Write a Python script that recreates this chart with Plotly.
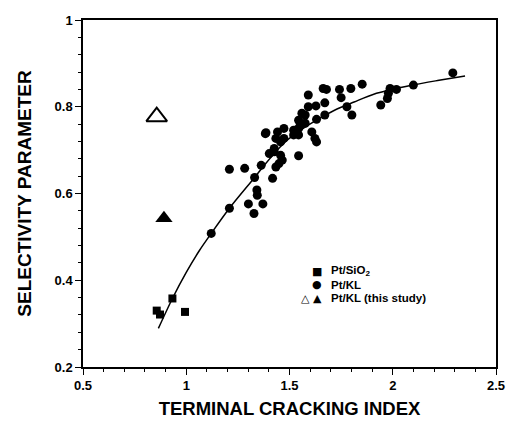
import plotly.graph_objects as go

# Pt/KL (literature) circles
kl_x = [1.121, 1.209, 1.209, 1.283, 1.363, 1.331, 1.342, 1.344, 1.301, 1.371,
        1.328, 1.383, 1.418, 1.434, 1.449, 1.465, 1.457, 1.426, 1.402, 1.426,
        1.457, 1.434, 1.473, 1.386, 1.442, 1.473, 1.520, 1.544, 1.520, 1.544,
        1.552, 1.576, 1.544, 1.560, 1.576, 1.608, 1.623, 1.631, 1.544, 1.591,
        1.628, 1.671, 1.631, 1.671, 1.591, 1.663, 1.679, 1.742, 1.750, 1.778,
        1.802, 1.797, 1.852, 1.942, 1.974, 1.979, 1.987, 2.018, 2.100, 2.291]
kl_y = [0.508, 0.566, 0.656, 0.658, 0.665, 0.637, 0.608, 0.596, 0.576, 0.576,
        0.554, 0.738, 0.635, 0.661, 0.669, 0.677, 0.688, 0.696, 0.692, 0.704,
        0.719, 0.727, 0.727, 0.740, 0.742, 0.750, 0.746, 0.750, 0.735, 0.735,
        0.758, 0.762, 0.769, 0.785, 0.781, 0.742, 0.727, 0.719, 0.687, 0.800,
        0.802, 0.809, 0.771, 0.781, 0.827, 0.842, 0.840, 0.840, 0.821, 0.800,
        0.781, 0.842, 0.852, 0.804, 0.819, 0.831, 0.842, 0.840, 0.850, 0.878]

# Pt/SiO2 squares
sio2_x = [0.857, 0.873, 0.933, 0.994]
sio2_y = [0.330, 0.321, 0.358, 0.327]

# Pt/KL (this study)
open_tri_x = [0.857]
open_tri_y = [0.777]
fill_tri_x = [0.892]
fill_tri_y = [0.543]

# fitted curve
curve_x = [0.865, 0.933, 1.000, 1.063, 1.121, 1.209, 1.331, 1.386, 1.481, 1.560,
           1.631, 1.718, 1.813, 1.908, 2.097, 2.224, 2.350]
curve_y = [0.289, 0.358, 0.418, 0.468, 0.508, 0.566, 0.637, 0.670, 0.720, 0.748,
           0.769, 0.792, 0.811, 0.829, 0.850, 0.861, 0.871]

legend_labels = ["Pt/SiO<sub>2</sub>", "Pt/KL", "Pt/KL (this study)"]

FONT = "Liberation Sans, Arial, sans-serif"

fig = go.Figure()
fig.add_trace(go.Scatter(x=curve_x, y=curve_y, mode="lines",
                         line=dict(color="black", width=1.5, shape="spline", smoothing=0.8),
                         showlegend=False, hoverinfo="skip"))
fig.add_trace(go.Scatter(x=kl_x, y=kl_y, mode="markers",
                         marker=dict(symbol="circle", size=9, color="black"),
                         showlegend=False))
fig.add_trace(go.Scatter(x=sio2_x, y=sio2_y, mode="markers",
                         marker=dict(symbol="square", size=8, color="black"),
                         showlegend=False))
fig.add_trace(go.Scatter(x=open_tri_x, y=open_tri_y, mode="markers",
                         marker=dict(symbol="triangle-up-open", size=18, color="black",
                                     line=dict(width=2)),
                         showlegend=False))
fig.add_trace(go.Scatter(x=fill_tri_x, y=fill_tri_y, mode="markers",
                         marker=dict(symbol="triangle-up", size=15, color="black"),
                         showlegend=False))

# legend drawn as annotations
leg_syms = ["■", "●", "△ ▲"]
for i, (lab, sym) in enumerate(zip(legend_labels, leg_syms)):
    yp = 1 - (271 + 13.5 * i - 19.5) / 347.5
    fig.add_annotation(xref="paper", yref="paper", x=(329 - 83) / 422, y=yp,
                       text=sym, showarrow=False, xanchor="right", yanchor="middle",
                       font=dict(family="DejaVu Sans", size=11, color="black"))
    fig.add_annotation(xref="paper", yref="paper", x=(334 - 83) / 422, y=yp,
                       text="<b>" + lab + "</b>", showarrow=False, xanchor="left",
                       yanchor="middle",
                       font=dict(family=FONT, size=11.5, color="black"))

axis_common = dict(showline=True, linecolor="black", linewidth=1.5, mirror=True,
                   ticks="outside", ticklen=6, tickwidth=1.2, tickcolor="black",
                   showgrid=False, zeroline=False,
                   tickfont=dict(family=FONT, size=13, color="black"))

fig.update_xaxes(range=[0.5, 2.5], tickvals=[0.5, 1, 1.5, 2, 2.5],
                 ticktext=["<b>0.5</b>", "<b>1</b>", "<b>1.5</b>", "<b>2</b>", "<b>2.5</b>"],
                 minor=dict(dtick=0.1, ticks="outside", ticklen=3, tickcolor="black"),
                 title=dict(text="<b>TERMINAL CRACKING INDEX</b>", standoff=10,
                            font=dict(family=FONT, size=18.5, color="black")),
                 **axis_common)
fig.update_yaxes(range=[0.2, 1.0], tickvals=[0.2, 0.4, 0.6, 0.8, 1.0],
                 ticktext=["<b>0.2</b>", "<b>0.4</b>", "<b>0.6</b>", "<b>0.8</b>", "<b>1</b>"],
                 minor=dict(dtick=0.04, ticks="outside", ticklen=3, tickcolor="black"),
                 title=dict(text="<b>SELECTIVITY PARAMETER</b>", standoff=18,
                            font=dict(family=FONT, size=19, color="black")),
                 **axis_common)

fig.update_layout(width=515, height=428, plot_bgcolor="white", paper_bgcolor="white",
                  margin=dict(l=83, r=10, t=19.5, b=61), showlegend=False)

fig.write_html("out.html")
